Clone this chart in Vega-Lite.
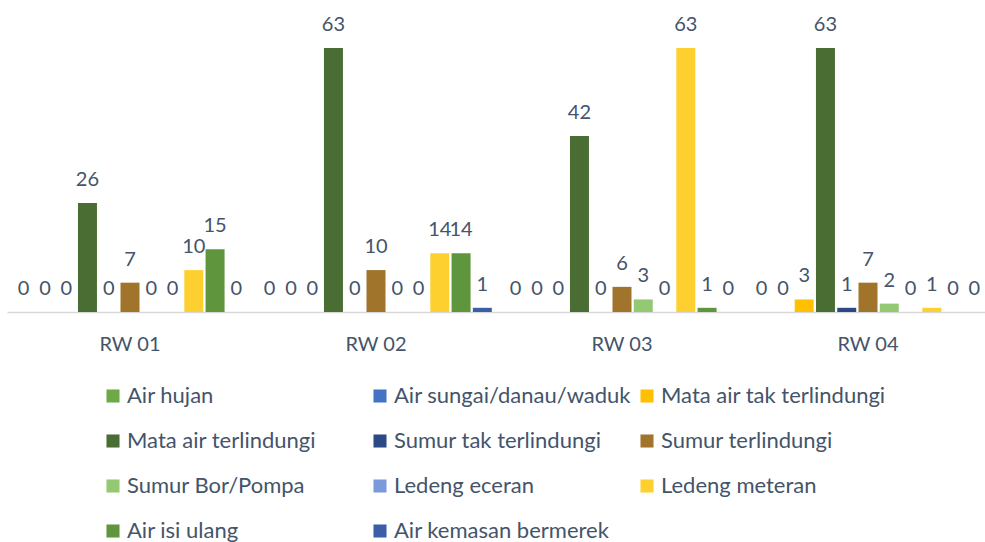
{
  "$schema": "https://vega.github.io/schema/vega-lite/v6.json",
  "autosize": "none",
  "width": 984,
  "height": 264,
  "padding": {"left": 7, "top": 48, "right": 0, "bottom": 230},
  "background": "white",
  "config": {"view": {"stroke": null}, "font": "Lato"},
  "data": {"values": [
    {"rw": "RW 01", "series": "Air hujan", "value": 0},
    {"rw": "RW 01", "series": "Air sungai/danau/waduk", "value": 0},
    {"rw": "RW 01", "series": "Mata air tak terlindungi", "value": 0},
    {"rw": "RW 01", "series": "Mata air terlindungi", "value": 26},
    {"rw": "RW 01", "series": "Sumur tak terlindungi", "value": 0},
    {"rw": "RW 01", "series": "Sumur terlindungi", "value": 7},
    {"rw": "RW 01", "series": "Sumur Bor/Pompa", "value": 0},
    {"rw": "RW 01", "series": "Ledeng eceran", "value": 0},
    {"rw": "RW 01", "series": "Ledeng meteran", "value": 10},
    {"rw": "RW 01", "series": "Air isi ulang", "value": 15},
    {"rw": "RW 01", "series": "Air kemasan bermerek", "value": 0},
    {"rw": "RW 02", "series": "Air hujan", "value": 0},
    {"rw": "RW 02", "series": "Air sungai/danau/waduk", "value": 0},
    {"rw": "RW 02", "series": "Mata air tak terlindungi", "value": 0},
    {"rw": "RW 02", "series": "Mata air terlindungi", "value": 63},
    {"rw": "RW 02", "series": "Sumur tak terlindungi", "value": 0},
    {"rw": "RW 02", "series": "Sumur terlindungi", "value": 10},
    {"rw": "RW 02", "series": "Sumur Bor/Pompa", "value": 0},
    {"rw": "RW 02", "series": "Ledeng eceran", "value": 0},
    {"rw": "RW 02", "series": "Ledeng meteran", "value": 14},
    {"rw": "RW 02", "series": "Air isi ulang", "value": 14},
    {"rw": "RW 02", "series": "Air kemasan bermerek", "value": 1},
    {"rw": "RW 03", "series": "Air hujan", "value": 0},
    {"rw": "RW 03", "series": "Air sungai/danau/waduk", "value": 0},
    {"rw": "RW 03", "series": "Mata air tak terlindungi", "value": 0},
    {"rw": "RW 03", "series": "Mata air terlindungi", "value": 42},
    {"rw": "RW 03", "series": "Sumur tak terlindungi", "value": 0},
    {"rw": "RW 03", "series": "Sumur terlindungi", "value": 6},
    {"rw": "RW 03", "series": "Sumur Bor/Pompa", "value": 3},
    {"rw": "RW 03", "series": "Ledeng eceran", "value": 0},
    {"rw": "RW 03", "series": "Ledeng meteran", "value": 63},
    {"rw": "RW 03", "series": "Air isi ulang", "value": 1},
    {"rw": "RW 03", "series": "Air kemasan bermerek", "value": 0},
    {"rw": "RW 04", "series": "Air hujan", "value": 0},
    {"rw": "RW 04", "series": "Air sungai/danau/waduk", "value": 0},
    {"rw": "RW 04", "series": "Mata air tak terlindungi", "value": 3},
    {"rw": "RW 04", "series": "Mata air terlindungi", "value": 63},
    {"rw": "RW 04", "series": "Sumur tak terlindungi", "value": 1},
    {"rw": "RW 04", "series": "Sumur terlindungi", "value": 7},
    {"rw": "RW 04", "series": "Sumur Bor/Pompa", "value": 2},
    {"rw": "RW 04", "series": "Ledeng eceran", "value": 0},
    {"rw": "RW 04", "series": "Ledeng meteran", "value": 1},
    {"rw": "RW 04", "series": "Air isi ulang", "value": 0},
    {"rw": "RW 04", "series": "Air kemasan bermerek", "value": 0}
  ]},
  "encoding": {
    "x": {"field": "rw", "type": "nominal", "title": null,
      "scale": {"paddingInner": 0.049, "paddingOuter": 0.0245},
      "axis": {"labelAngle": 0, "ticks": false, "domainColor": "#D9D9D9", "domainWidth": 1.5,
        "labelFontSize": 20, "labelColor": "#44546A", "labelPadding": 22, "labelFont": "Lato"}},
    "xOffset": {"field": "series", "type": "nominal",
      "scale": {"domain": ["Air hujan", "Air sungai/danau/waduk", "Mata air tak terlindungi", "Mata air terlindungi", "Sumur tak terlindungi", "Sumur terlindungi", "Sumur Bor/Pompa", "Ledeng eceran", "Ledeng meteran", "Air isi ulang", "Air kemasan bermerek"],
        "paddingInner": 0.107, "paddingOuter": 0.0535}},
    "y": {"field": "value", "type": "quantitative", "scale": {"domain": [0, 63]}, "axis": null}
  },
  "layer": [
    {"mark": {"type": "bar"},
     "encoding": {
       "color": {"field": "series", "type": "nominal", "title": null,
         "scale": {"domain": ["Air hujan", "Air sungai/danau/waduk", "Mata air tak terlindungi", "Mata air terlindungi", "Sumur tak terlindungi", "Sumur terlindungi", "Sumur Bor/Pompa", "Ledeng eceran", "Ledeng meteran", "Air isi ulang", "Air kemasan bermerek"],
           "range": ["#6DAA45", "#4472C4", "#FFC000", "#4A6D33", "#2B4A85", "#A0742A", "#94C973", "#7A9BDB", "#FDD030", "#5F963D", "#3A5EA8"]},
         "legend": {"orient": "none", "legendX": 95, "legendY": 337, "columns": 3, "gridAlign": "all",
           "values": ["Air hujan", "Mata air terlindungi", "Sumur Bor/Pompa", "Air isi ulang", "Air sungai/danau/waduk", "Sumur tak terlindungi", "Ledeng eceran", "Air kemasan bermerek", "Mata air tak terlindungi", "Sumur terlindungi", "Ledeng meteran"],
           "symbolType": "square", "symbolSize": 170, "symbolStrokeWidth": 0,
           "labelFontSize": 22, "labelColor": "#44546A", "labelFont": "Lato", "labelLimit": 400,
           "rowPadding": 23, "columnPadding": 5, "labelOffset": 3}}
     }},
    {"mark": {"type": "text", "baseline": "alphabetic", "dy": -17, "fontSize": 20, "color": "#44546A", "font": "Lato"},
     "encoding": {"text": {"field": "value", "type": "quantitative"}}}
  ]
}
